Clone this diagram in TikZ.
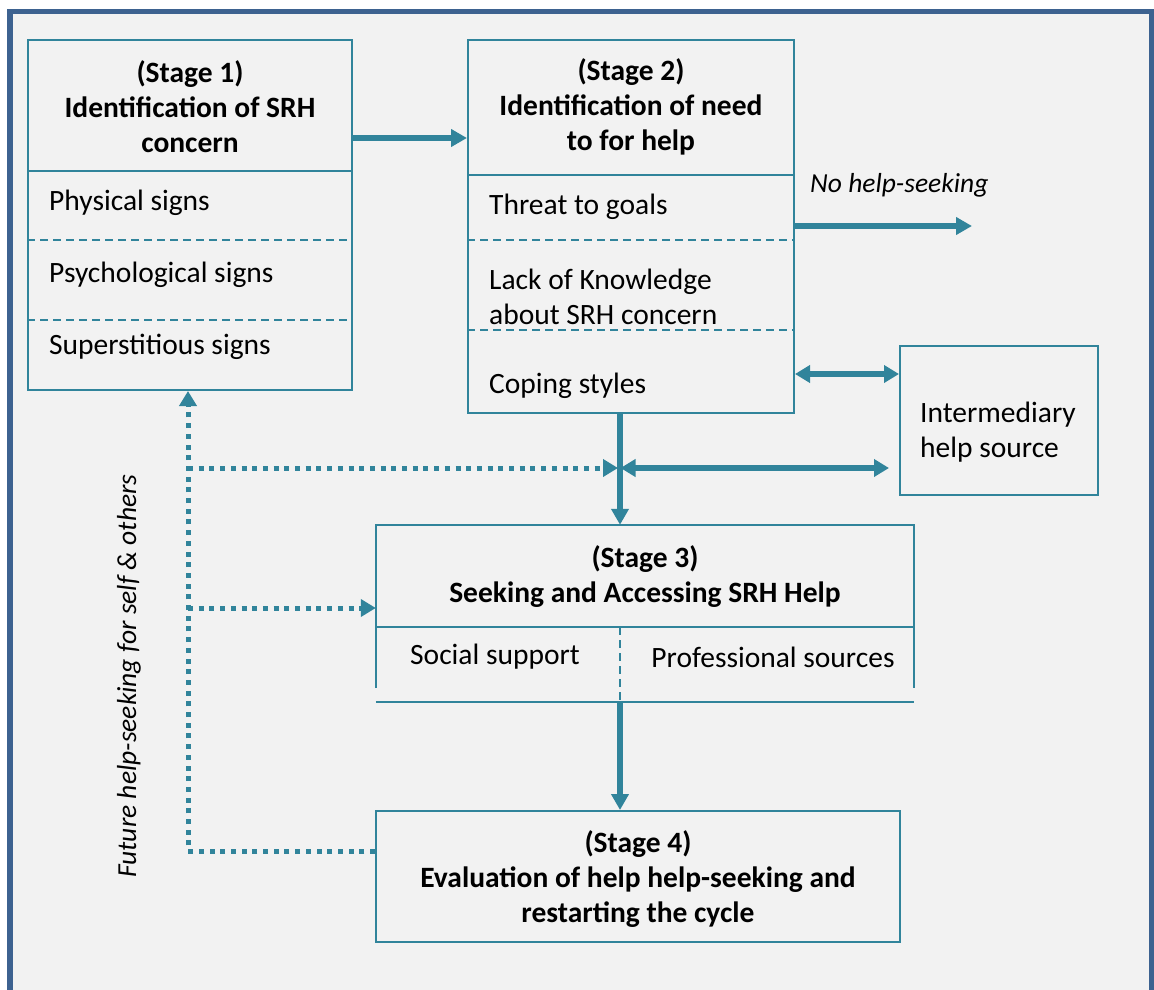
\documentclass[tikz,border=0pt]{standalone}
\usepackage{fontspec}
\setmainfont{Carlito}
\usetikzlibrary{arrows.meta}
\definecolor{teal}{HTML}{31849B}
\definecolor{frame}{HTML}{3D6290}
\definecolor{panel}{HTML}{F2F2F2}
\begin{document}
\begin{tikzpicture}[x=1pt,y=-1pt,
  box/.style={draw=teal,line width=2pt,rectangle,inner sep=0pt},
  area/.style={rectangle,inner sep=0pt},
  sep/.style={draw=teal,line width=1.4pt,dash pattern=on 8pt off 5pt},
  rule/.style={draw=teal,line width=2pt},
  txt/.style={inner sep=0pt,yshift=-2pt,font=\fontsize{29.5}{35}\selectfont,text=black},
  head/.style={txt,font=\fontsize{29.5}{35}\selectfont\bfseries,align=center},
  itxt/.style={txt,font=\fontsize{27.5}{35}\selectfont\itshape},
  arr/.style={draw=teal,line width=5.5pt,-{Triangle[length=16pt,width=17pt]}},
  darr/.style={draw=teal,line width=5.5pt,{Triangle[length=15pt,width=17pt]}-{Triangle[length=15pt,width=17pt]}},
  dots/.style={draw=teal,line width=5pt,dash pattern=on 5pt off 5.7pt,-{Triangle[length=15pt,width=17pt]}}]

% page and frame
\useasboundingbox (0,0) rectangle (1154,990);
\fill[white] (0,0) rectangle (1154,990);
\fill[panel] (10,11.5) rectangle (1151.5,995);
\draw[frame,line width=5.5pt] (10,995) -- (10,11.5) -- (1151.5,11.5) -- (1151.5,995);

% main boxes
\node[box,minimum width=324pt,minimum height=350pt] (s1) at (190,215) {};
\node[box,minimum width=326pt,minimum height=373pt] (s2) at (631,226.5) {};
\node[box,minimum width=198pt,minimum height=149pt] (im) at (999,420.5) {};
\node[area,minimum width=538pt,minimum height=177pt] (s3) at (645,613.5) {};
\node[box,minimum width=524pt,minimum height=131pt] (s4) at (638,876.5) {};

% row levels
\coordinate (h1) at (0,171);
\coordinate (h2) at (0,175);
\coordinate (d1) at (0,240);
\coordinate (d2) at (0,320);
\coordinate (d3) at (0,330);
\coordinate (h3) at (0,627);
\coordinate (s3side) at (0,688);
\coordinate (mid) at (620,0);

% stage 1 rows
\draw[rule] (s1.west |- h1) -- (s1.east |- h1);
\draw[sep] (s1.west |- d1) -- (s1.east |- d1);
\draw[sep] (s1.west |- d2) -- (s1.east |- d2);

% stage 2 rows
\draw[rule] (s2.west |- h2) -- (s2.east |- h2);
\draw[sep] (s2.west |- d1) -- (s2.east |- d1);
\draw[sep] (s2.west |- d3) -- (s2.east |- d3);

% stage 3 open box
\draw[rule] (s3.west |- s3side) -- (s3.north west) -- (s3.north east) -- (s3.east |- s3side);
\draw[rule] (s3.west |- h3) -- (s3.east |- h3);
\draw[rule] (s3.south west) -- (s3.south east);
\draw[sep] (mid |- h3) -- (mid |- s3.south);

% texts
\node[head] (t1) at (190,105) {(Stage 1)\\Identification of SRH\\concern};
\node[txt,anchor=west] (p1) at (49,201) {Physical signs};
\node[txt,anchor=west] (p2) at (49,273) {Psychological signs};
\node[txt,anchor=west] (p3) at (49,345) {Superstitious signs};

\node[head] (t2) at (631,105) {(Stage 2)\\Identification of need\\to for help};
\node[txt,anchor=west] (q1) at (489,205) {Threat to goals};
\node[txt,anchor=west,align=left] (q2) at (489,294.5) {Lack of Knowledge\\about SRH concern};
\node[txt,anchor=west] (q3) at (489,384) {Coping styles};

\node[txt,anchor=west,align=left] (it) at (920,430) {Intermediary\\help source};

\node[head] (t3) at (645,574.5) {(Stage 3)\\Seeking and Accessing SRH Help};
\node[txt] (r1) at (495,655) {Social support};
\node[txt] (r2) at (773,655) {Professional sources};

\node[head] (t4) at (638,877) {(Stage 4)\\Evaluation of help help-seeking and\\restarting the cycle};

\node[itxt,anchor=west] (nh) at (810,183) {No help-seeking};
\node[itxt,rotate=90,yshift=0pt,xshift=2pt] (fut) at (129,676) {Future help-seeking for self \& others};

% solid connectors
\coordinate (a12) at (0,138);
\coordinate (anh) at (0,226);
\coordinate (nhend) at (972,226);
\coordinate (aim) at (0,374);
\coordinate (lvl) at (0,468);
\coordinate (imnear) at (889,468);

\draw[arr] (s1.east |- a12) -- (s2.west |- a12);
\draw[arr] (s2.east |- anh) -- (nhend);
\draw[darr] (s2.east |- aim) -- (im.west |- aim);
\draw[arr] (mid |- s2.south) -- (mid |- s3.north);
\draw[darr] ([xshift=0.5pt]mid |- lvl) -- (imnear);
\draw[arr] (mid |- s3.south) -- (mid |- s4.north);

% dotted feedback loop
\coordinate (loopx) at (188,0);
\coordinate (l4) at (0,851);
\coordinate (l3) at (0,608);
\draw[dots] (s4.west |- l4) -- (loopx |- l4) -- (loopx |- s1.south);
\draw[dots] (loopx |- l3) -- (s3.west |- l3);
\draw[dots] (loopx |- lvl) -- ([xshift=-2pt]mid |- lvl);
\end{tikzpicture}
\end{document}
